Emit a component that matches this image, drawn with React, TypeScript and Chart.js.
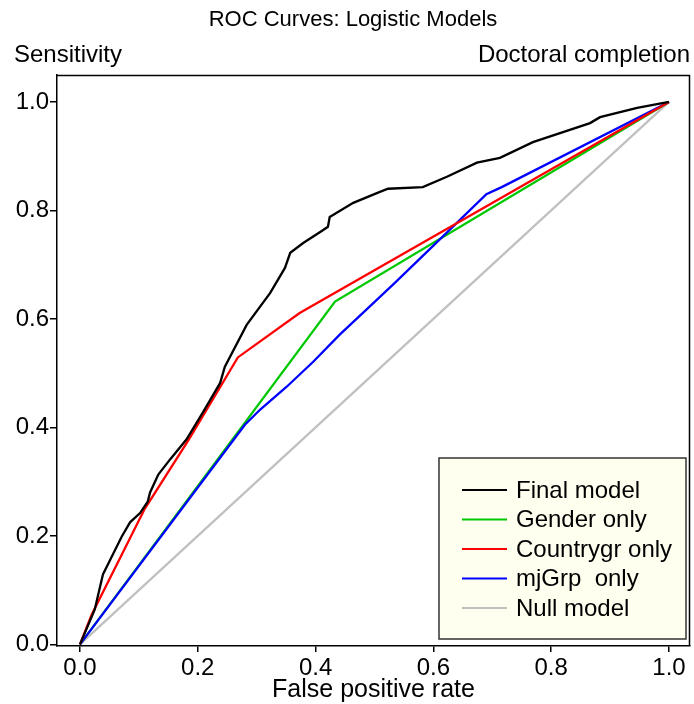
import React, { useEffect, useRef } from "react";
import { Chart, registerables } from "chart.js";

Chart.register(...registerables);

const TITLE = "ROC Curves: Logistic Models";
const Y_TITLE = "Sensitivity";
const SUBTITLE_RIGHT = "Doctoral completion";
const X_TITLE = "False positive rate";

const xTickValues = [0, 0.2, 0.4, 0.6, 0.8, 1.0];
const yTickValues = [0, 0.2, 0.4, 0.6, 0.8, 1.0];

const seriesNames = ["Final model", "Gender only", "Countrygr only", "mjGrp  only", "Null model"];
const seriesColors = ["#000000", "#00C800", "#FF0000", "#0000FF", "#C0C0C0"];

const finalX = [0, 0.025, 0.039, 0.056, 0.071, 0.085, 0.102, 0.115, 0.119, 0.133, 0.153, 0.181, 0.21, 0.238, 0.246, 0.283, 0.323, 0.348, 0.357, 0.379, 0.413, 0.421, 0.424, 0.464, 0.504, 0.523, 0.582, 0.623, 0.674, 0.713, 0.769, 0.866, 0.883, 0.946, 1.0];
const finalY = [0, 0.064, 0.129, 0.166, 0.199, 0.225, 0.242, 0.263, 0.28, 0.313, 0.341, 0.378, 0.43, 0.482, 0.512, 0.589, 0.648, 0.694, 0.722, 0.74, 0.764, 0.77, 0.788, 0.814, 0.832, 0.84, 0.843, 0.862, 0.888, 0.897, 0.926, 0.961, 0.972, 0.989, 1.0];

const genderX = [0, 0.433, 1.0];
const genderY = [0, 0.632, 1.0];

const countryX = [0, 0.02, 0.11, 0.185, 0.268, 0.373, 1.0];
const countryY = [0, 0.055, 0.25, 0.378, 0.529, 0.611, 1.0];

const mjGrpX = [0, 0.28, 0.306, 0.351, 0.396, 0.441, 0.489, 0.535, 0.6, 0.69, 0.716, 1.0];
const mjGrpY = [0, 0.405, 0.433, 0.475, 0.521, 0.571, 0.62, 0.667, 0.735, 0.83, 0.843, 1.0];

const nullX = [0, 1.0];
const nullY = [0, 1.0];

const allX = [finalX, genderX, countryX, mjGrpX, nullX];
const allY = [finalY, genderY, countryY, mjGrpY, nullY];
const drawOrder = [0, 3, 1, 2, 4];

const FONT = '"Liberation Sans", Arial, sans-serif';

const textPlugin = {
  id: "textAndFrame",
  afterDraw(chart: any) {
    const ctx = chart.ctx;
    const a = chart.chartArea;
    ctx.save();
    ctx.strokeStyle = "#000";
    ctx.lineWidth = 1.5;
    ctx.beginPath();
    ctx.moveTo(a.left, a.top + 0.5);
    ctx.lineTo(a.right - 0.5, a.top + 0.5);
    ctx.lineTo(a.right - 0.5, a.bottom);
    ctx.stroke();

    ctx.fillStyle = "#000";
    ctx.textBaseline = "middle";
    ctx.font = `22px ${FONT}`;
    ctx.textAlign = "center";
    ctx.fillText(TITLE, 353, 20);
    ctx.font = `24px ${FONT}`;
    ctx.textAlign = "left";
    ctx.fillText(Y_TITLE, 14, 55);
    ctx.textAlign = "right";
    ctx.fillText(SUBTITLE_RIGHT, 690, 55);
    ctx.font = `25px ${FONT}`;
    ctx.textAlign = "center";
    ctx.fillText(X_TITLE, (a.left + a.right) / 2, 690);

    const lx = 439, ly = 458, lw = 247, lh = 181;
    ctx.fillStyle = "#FFFFF0";
    ctx.fillRect(lx, ly, lw, lh);
    ctx.strokeStyle = "#333";
    ctx.lineWidth = 1.5;
    ctx.strokeRect(lx, ly, lw, lh);
    ctx.font = `24px ${FONT}`;
    ctx.textAlign = "left";
    for (let i = 0; i < seriesNames.length; i++) {
      const cy = 490 + i * 29.5;
      ctx.strokeStyle = seriesColors[i];
      ctx.lineWidth = 2.2;
      ctx.beginPath();
      ctx.moveTo(462, cy);
      ctx.lineTo(507, cy);
      ctx.stroke();
      ctx.fillStyle = "#000";
      ctx.fillText(seriesNames[i], 516, cy + 1);
    }
    ctx.restore();
  },
};

export default function App() {
  const ref = useRef<HTMLCanvasElement | null>(null);
  useEffect(() => {
    document.body.style.margin = "0";
    const canvas = ref.current;
    if (!canvas) return;
    const datasets = seriesNames.map((name, i) => ({
      label: name,
      data: allX[i].map((x, j) => ({ x, y: allY[i][j] })),
      borderColor: seriesColors[i],
      backgroundColor: seriesColors[i],
      borderWidth: 2.3,
      pointRadius: 0,
      showLine: true,
      tension: 0,
      fill: false,
      order: drawOrder[i],
    }));
    const chart = new Chart(canvas, {
      type: "scatter",
      data: { datasets },
      options: {
        responsive: false,
        animation: false,
        layout: { padding: { top: 75, left: 0, right: 4, bottom: 0 } },
        plugins: { legend: { display: false }, tooltip: { enabled: false }, title: { display: false } },
        scales: {
          x: {
            type: "linear",
            min: -0.039,
            max: 1.0357,
            afterFit: (s: any) => { s.height = 58; },
            afterBuildTicks: (s: any) => { s.ticks = xTickValues.map((v) => ({ value: v })); },
            grid: { drawOnChartArea: false, drawTicks: true, tickLength: 6, color: "#000", lineWidth: 1.5 },
            border: { display: true, color: "#000", width: 1.5 },
            ticks: { color: "#000", font: { family: FONT, size: 24 }, padding: 2, maxRotation: 0, callback: (v: any) => Number(v).toFixed(1) },
          },
          y: {
            type: "linear",
            min: -0.003,
            max: 1.0497,
            afterFit: (s: any) => { s.width = 57; },
            afterBuildTicks: (s: any) => { s.ticks = yTickValues.map((v) => ({ value: v })); },
            grid: { drawOnChartArea: false, drawTicks: true, tickLength: 7, color: "#000", lineWidth: 1.5 },
            border: { display: true, color: "#000", width: 1.5 },
            ticks: { color: "#000", font: { family: FONT, size: 24 }, padding: 1, callback: (v: any) => Number(v).toFixed(1) },
          },
        },
      },
      plugins: [textPlugin],
    });
    return () => chart.destroy();
  }, []);
  return (
    <div style={{ width: 694, height: 704 }}>
      <canvas ref={ref} width={694} height={704} style={{ display: "block" }} />
    </div>
  );
}
